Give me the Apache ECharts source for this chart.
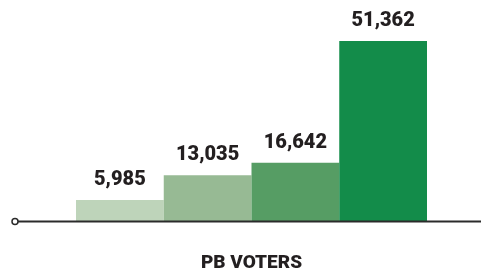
<!DOCTYPE html>
<html>
<head>
<meta charset="utf-8">
<script src="https://cdn.jsdelivr.net/npm/echarts@6/dist/echarts.min.js"></script>
<style>
  html, body { margin: 0; padding: 0; background: #fff; }
  #main { width: 481px; height: 271px; }
</style>
</head>
<body>
<div id="main"></div>
<script>
// data
var categories = ['A', 'B', 'C', 'D'];
var voters = [5985, 13035, 16642, 51362];
var barColors = ['#bed4ba', '#97ba94', '#569d64', '#138c4a'];

var myChart = echarts.init(document.getElementById('main'));

var option = {
  animation: false,
  grid: { left: 76, right: 54, top: 41, bottom: 50, outerBoundsMode: 'none' },
  xAxis: {
    type: 'category',
    data: categories,
    name: 'PB VOTERS',
    nameLocation: 'middle',
    nameGap: 33,
    nameTextStyle: {
      fontFamily: 'Roboto',
      fontWeight: 900,
      fontSize: 19,
      color: '#231f20'
    },
    axisLine: { show: false },
    axisTick: { show: false },
    axisLabel: { show: false }
  },
  yAxis: {
    type: 'value',
    min: 0,
    max: 51362,
    show: false,
    splitLine: { show: false }
  },
  series: [
    {
      type: 'bar',
      barWidth: '100%',
      data: voters.map(function (v, i) {
        return { value: v, itemStyle: { color: barColors[i] } };
      }),
      label: {
        show: true,
        position: 'top',
        distance: 10,
        fontFamily: 'Roboto',
        fontWeight: 900,
        fontSize: 20,
        color: '#231f20',
        formatter: function (p) {
          return p.value.toLocaleString('en-US');
        }
      }
    }
  ],
  // baseline with the little open circle on the left
  graphic: [
    {
      type: 'line',
      shape: { x1: 17, y1: 221.5, x2: 481, y2: 221.5 },
      style: { stroke: '#2b2b2b', lineWidth: 2 },
      z: 10
    },
    {
      type: 'circle',
      shape: { cx: 15, cy: 221.5, r: 3 },
      style: { fill: '#fff', stroke: '#2b2b2b', lineWidth: 1.5 },
      z: 11
    }
  ]
};

myChart.setOption(option);
</script>
</body>
</html>
